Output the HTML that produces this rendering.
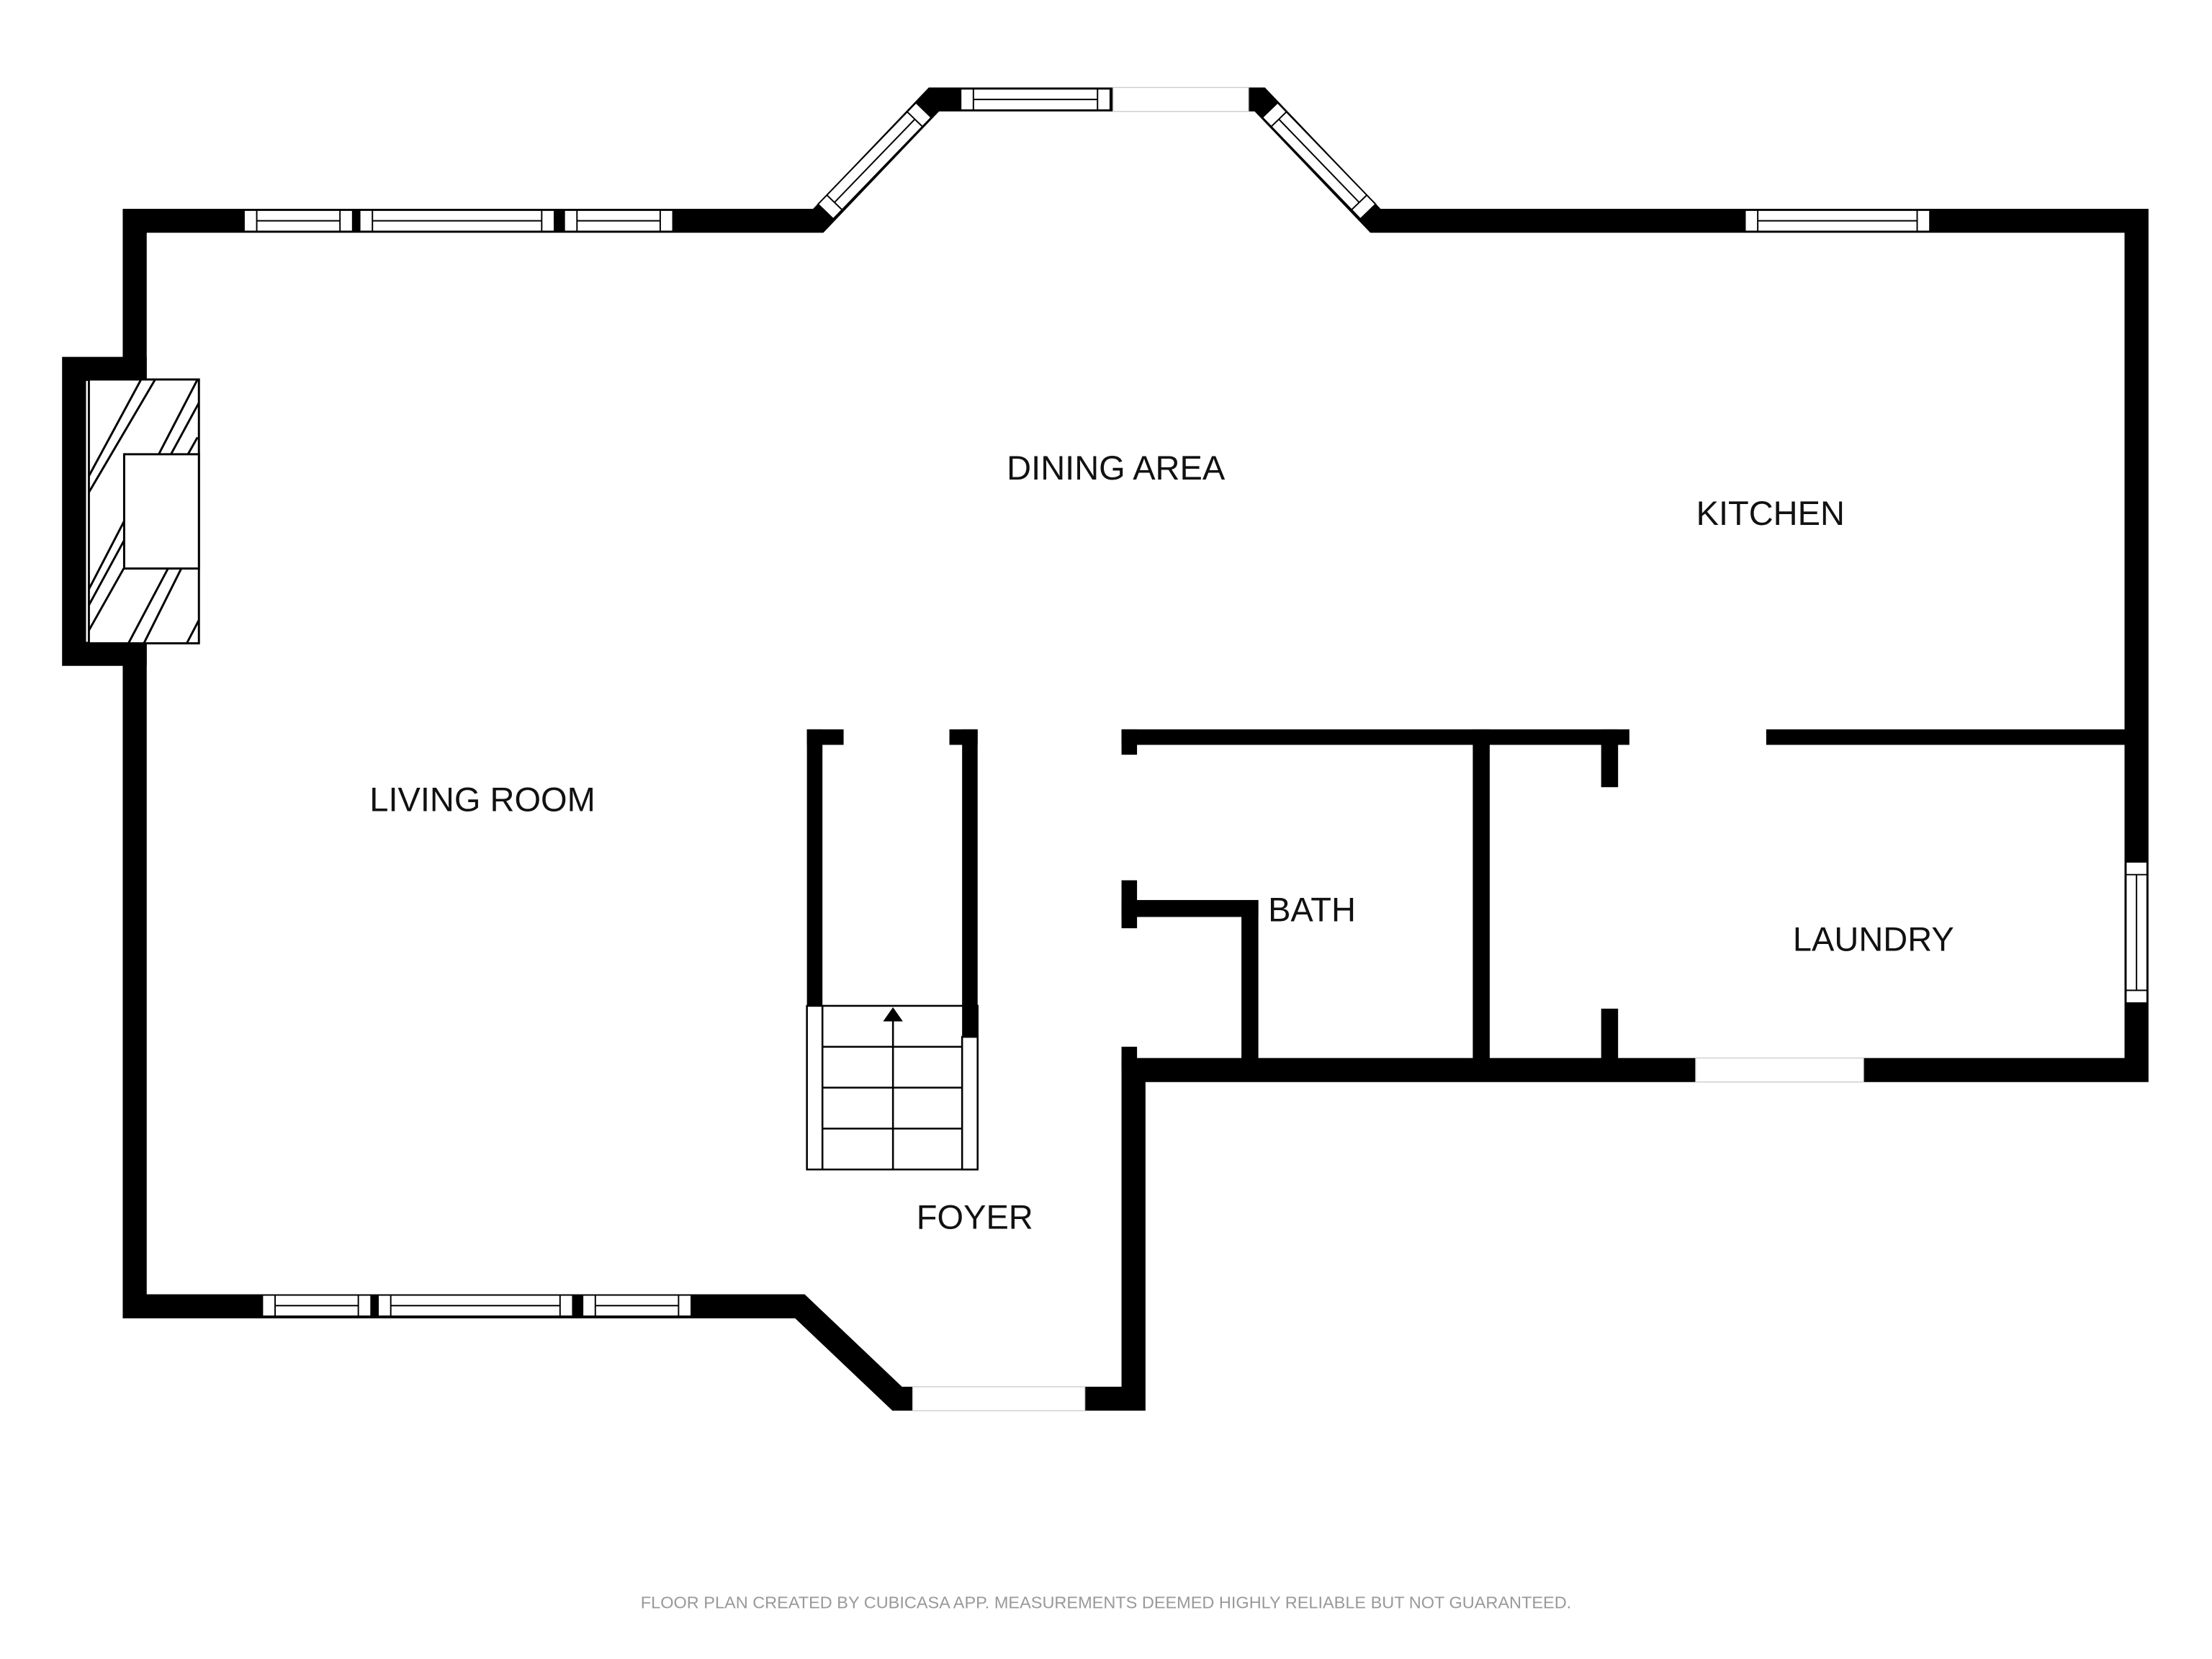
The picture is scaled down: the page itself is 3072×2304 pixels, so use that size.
<!DOCTYPE html>
<html><head><meta charset="utf-8"><style>
html,body{margin:0;padding:0;background:#fff;width:3072px;height:2304px;overflow:hidden}
svg{display:block}
text{font-family:"Liberation Sans","DejaVu Sans",sans-serif}
</style></head><body>
<svg width="3072" height="2304" viewBox="0 0 1568 1176" xmlns="http://www.w3.org/2000/svg">
<rect width="1568" height="1176" fill="#fff"/>
<!-- outer walls -->
<polygon points="95.5,156.5 580,156.5 662,70.5 893,70.5 975,156.5 1514.5,156.5 1514.5,758.5 803.5,758.5 803.5,991.5 636,991.5 567,926 95.5,926" fill="none" stroke="#000" stroke-width="17" stroke-linejoin="miter"/>
<!-- fireplace wall bump -->
<polyline points="104,261.5 52.5,261.5 52.5,463.5 104,463.5" fill="none" stroke="#000" stroke-width="17"/>
<rect x="87" y="270" width="17" height="185" fill="#fff"/>
<!-- fireplace -->
<rect x="63" y="269" width="78" height="187" fill="#fff" stroke="#000" stroke-width="1.5"/>
<clipPath id="fp"><rect x="63" y="269" width="78" height="187"/></clipPath>
<g clip-path="url(#fp)" stroke="#000" stroke-width="1.5">
<line x1="63" y1="349" x2="110" y2="269"/>
<line x1="63" y1="429" x2="150" y2="269"/>
<line x1="63" y1="509" x2="190" y2="269"/>
<line x1="63" y1="589" x2="230" y2="269"/>
<line x1="100" y1="269" x2="40" y2="380"/>
<line x1="140" y1="269" x2="10" y2="520"/>
<line x1="140" y1="310" x2="50" y2="470"/>
<line x1="140" y1="380" x2="100" y2="460"/>
</g>
<rect x="88" y="322" width="53" height="81" fill="#fff" stroke="#000" stroke-width="1.5"/>
<!-- windows -->
<g fill="#fff" stroke="#000" stroke-width="1">
<rect x="173" y="149" width="77" height="15"/><line x1="182" y1="149" x2="182" y2="164"/><line x1="241" y1="149" x2="241" y2="164"/><line x1="182" y1="156.5" x2="241" y2="156.5"/>
<rect x="255" y="149" width="138" height="15"/><line x1="264" y1="149" x2="264" y2="164"/><line x1="384" y1="149" x2="384" y2="164"/><line x1="264" y1="156.5" x2="384" y2="156.5"/>
<rect x="400" y="149" width="77" height="15"/><line x1="409" y1="149" x2="409" y2="164"/><line x1="468" y1="149" x2="468" y2="164"/><line x1="409" y1="156.5" x2="468" y2="156.5"/>
<rect x="186" y="918" width="77" height="15"/><line x1="195" y1="918" x2="195" y2="933"/><line x1="254" y1="918" x2="254" y2="933"/><line x1="195" y1="925.5" x2="254" y2="925.5"/>
<rect x="268" y="918" width="138" height="15"/><line x1="277" y1="918" x2="277" y2="933"/><line x1="397" y1="918" x2="397" y2="933"/><line x1="277" y1="925.5" x2="397" y2="925.5"/>
<rect x="413" y="918" width="77" height="15"/><line x1="422" y1="918" x2="422" y2="933"/><line x1="481" y1="918" x2="481" y2="933"/><line x1="422" y1="925.5" x2="481" y2="925.5"/>
<rect x="1237" y="149" width="131" height="15"/><line x1="1246" y1="149" x2="1246" y2="164"/><line x1="1359" y1="149" x2="1359" y2="164"/><line x1="1246" y1="156.5" x2="1359" y2="156.5"/>
<rect x="681" y="63" width="106" height="15"/><line x1="690" y1="63" x2="690" y2="78"/><line x1="778" y1="63" x2="778" y2="78"/><line x1="690" y1="70.5" x2="778" y2="70.5"/>
<rect x="1507" y="611" width="15" height="100"/><line x1="1507" y1="620" x2="1522" y2="620"/><line x1="1507" y1="702" x2="1522" y2="702"/><line x1="1514.5" y1="620" x2="1514.5" y2="702"/>
<g transform="translate(620,114) rotate(-46)"><rect x="-50" y="-7.5" width="100" height="15"/><line x1="-41" y1="-7.5" x2="-41" y2="7.5"/><line x1="41" y1="-7.5" x2="41" y2="7.5"/><line x1="-41" y1="0" x2="41" y2="0"/></g>
<g transform="translate(935,114) rotate(46)"><rect x="-50" y="-7.5" width="100" height="15"/><line x1="-41" y1="-7.5" x2="-41" y2="7.5"/><line x1="41" y1="-7.5" x2="41" y2="7.5"/><line x1="-41" y1="0" x2="41" y2="0"/></g>
</g>
<!-- door openings -->
<g fill="#fff" stroke="#ccc" stroke-width="0.7">
<rect x="789" y="62" width="96" height="17"/>
<rect x="647" y="983" width="122" height="17"/>
<rect x="1202" y="750" width="119" height="17"/>
</g>
<!-- interior walls -->
<g fill="#000">
<rect x="795" y="517" width="360" height="11"/>
<rect x="1252" y="517" width="262" height="11"/>
<rect x="795" y="517" width="11" height="18"/>
<rect x="795" y="624" width="11" height="34"/>
<rect x="795" y="742" width="11" height="16"/>
<rect x="795" y="638" width="97" height="12"/>
<rect x="880" y="638" width="12" height="120"/>
<rect x="1044" y="517" width="12" height="241"/>
<rect x="1135" y="517" width="12" height="41"/>
<rect x="1135" y="715" width="12" height="43"/>
<rect x="572" y="517" width="26" height="11"/>
<rect x="673" y="517" width="20" height="11"/>
<rect x="572" y="517" width="11" height="196"/>
<rect x="682" y="517" width="11" height="218"/>
</g>
<!-- stairs -->
<g fill="none" stroke="#000" stroke-width="1.3">
<rect x="572" y="713" width="121" height="116" fill="#fff"/>
<rect x="682" y="735" width="11" height="94" fill="#fff"/>
<line x1="583" y1="713" x2="583" y2="829"/>
<line x1="583" y1="742" x2="682" y2="742"/>
<line x1="583" y1="771" x2="682" y2="771"/>
<line x1="583" y1="800" x2="682" y2="800"/>
<line x1="633" y1="722" x2="633" y2="829"/>
</g>
<rect x="682" y="713" width="11" height="22" fill="#000"/>
<polygon points="633,714 626,724 640,724" fill="#000"/>
<!-- labels -->
<g font-size="24" fill="#111" text-anchor="middle">
<text x="791" y="340">DINING AREA</text>
<text x="1255" y="372">KITCHEN</text>
<text x="342" y="575">LIVING ROOM</text>
<text x="930" y="653">BATH</text>
<text x="1328" y="674">LAUNDRY</text>
<text x="691" y="871">FOYER</text>
</g>
<text x="784" y="1140" font-size="12" fill="#999" text-anchor="middle">FLOOR PLAN CREATED BY CUBICASA APP. MEASUREMENTS DEEMED HIGHLY RELIABLE BUT NOT GUARANTEED.</text>
</svg>
</body></html>
